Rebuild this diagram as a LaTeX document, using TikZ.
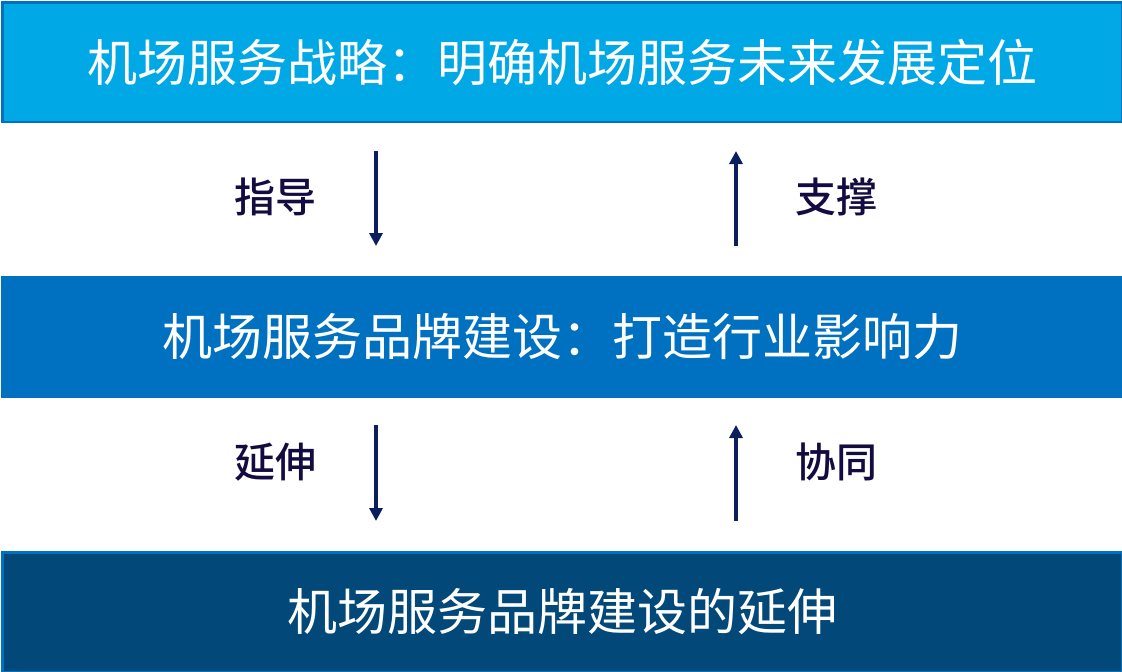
\documentclass[tikz,border=0pt]{standalone}
\usepackage{fontspec}
\newfontfamily\cjk{Noto Sans CJK SC}
\newfontfamily\cjkm{Noto Sans CJK SC Medium}
\usetikzlibrary{arrows.meta}
\definecolor{topfill}{HTML}{00A8E6}
\definecolor{midfill}{HTML}{0070C0}
\definecolor{botfill}{HTML}{024878}
\definecolor{edge}{HTML}{0070C0}
\definecolor{arrowc}{HTML}{0A1F5C}
\definecolor{labelc}{HTML}{140C40}
\begin{document}
\begin{tikzpicture}[x=1pt,y=-1pt,
  band/.style={draw=edge,line width=2.5pt,minimum width=1119.5pt,minimum height=119.5pt,inner sep=0pt,anchor=north west,text=white,font=\cjk\fontsize{50}{58}\selectfont},
  lbl/.style={text=labelc,font=\cjkm\fontsize{41}{48}\selectfont,inner sep=0pt},
  flow/.style={draw=arrowc,line width=4pt,-{Triangle[width=13pt,length=13pt]}}]
\useasboundingbox (0,0) rectangle (1122,672);
\node[band,fill=topfill] (top) at (1.25,1.25) {\raisebox{1pt}{机场服务战略：明确机场服务未来发展定位}};
\node[band,fill=midfill,draw=midfill] (mid) at (1.25,276) {机场服务品牌建设：打造行业影响力};
\node[band,fill=botfill] (bot) at (1.25,551) {机场服务品牌建设的延伸};
\coordinate (a1s) at (376,151); \coordinate (a1e) at (376,246);
\coordinate (a2s) at (736,246); \coordinate (a2e) at (736,151);
\coordinate (a3s) at (376,425); \coordinate (a3e) at (376,521);
\coordinate (a4s) at (736,521); \coordinate (a4e) at (736,425);
\draw[flow] (a1s) -- (a1e);
\draw[flow] (a2s) -- (a2e);
\draw[flow] (a3s) -- (a3e);
\draw[flow] (a4s) -- (a4e);
\node[lbl] (l1) at (275,197) {指导};
\node[lbl] (l2) at (836,197) {支撑};
\node[lbl] (l3) at (275,462) {延伸};
\node[lbl] (l4) at (836,462) {协同};
\end{tikzpicture}
\end{document}
